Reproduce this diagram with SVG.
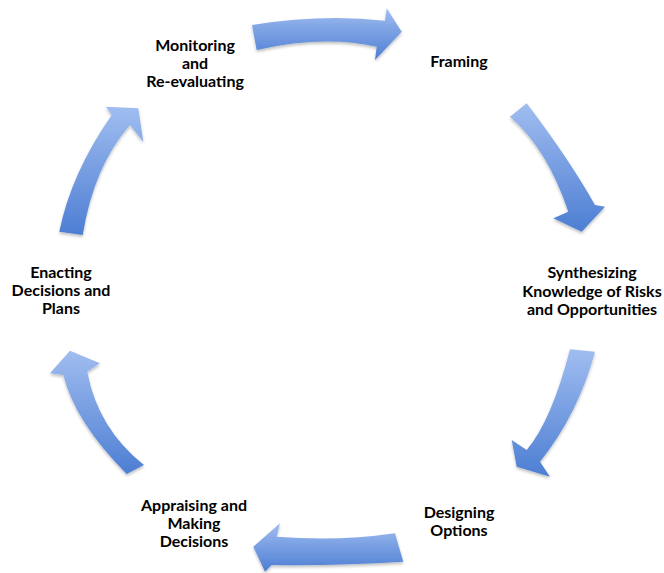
<svg xmlns="http://www.w3.org/2000/svg" width="664" height="573" viewBox="0 0 664 573">
  <style>
    .lbl { font-family: Lato, "Open Sans", "Liberation Sans", sans-serif; font-weight: bold; font-size: 16px; fill: #000; text-anchor: middle; }
    .arrow { fill: url(#blueGrad); filter: url(#shadow); }
  </style>
  <defs>
    <linearGradient id="blueGrad" x1="0" y1="0" x2="0" y2="1">
      <stop offset="0" stop-color="#a0bdf0"/>
      <stop offset="1" stop-color="#4d7ed3"/>
    </linearGradient>
    <filter id="shadow" x="-20%" y="-20%" width="140%" height="140%">
      <feDropShadow dx="0" dy="2" stdDeviation="1.5" flood-color="#000" flood-opacity="0.25"/>
    </filter>
  </defs>
  <rect width="664" height="573" fill="#fff"/>

  <g id="connectors">
    <path id="arrow-monitoring-framing" class="arrow" d="M252,25 Q321.5,13.8 385,20.7 L386.7,8.3 L401.7,31.7 L375,60 L376.7,46.7 Q323.3,35 256.7,50 Z"/>
    <path id="arrow-framing-synthesizing" class="arrow" d="M526.7,103.3 Q569.2,159.3 595,205 L605,206.7 L581.7,231.7 L553.3,218.3 L568.3,211.7 Q547.5,149.2 510,116.7 Z"/>
    <path id="arrow-synthesizing-designing" class="arrow" d="M595,351.7 Q578.5,413.3 540,461.7 L550,476.7 L516.7,466.7 L511.7,440 L526.7,450 Q551.7,420.4 570,349.3 Z"/>
    <path id="arrow-designing-appraising" class="arrow" d="M395,533.3 Q337.5,541.6 276.7,536.7 L280,523.3 L253.3,546.7 L265,571.7 L271.7,565 Q337,566 403.3,561.7 Z"/>
    <path id="arrow-appraising-enacting" class="arrow" d="M144,465 Q97.8,428.3 87.3,371.7 L100,363.3 L70,350.7 L50,373.3 L63.3,375 Q75,422.1 126.7,474 Z"/>
    <path id="arrow-enacting-monitoring" class="arrow" d="M59.3,231.7 Q71.1,173.3 111.7,115 L106,106.7 L138.3,108.3 L143.3,141.7 L130,125 Q93.7,166.6 82.7,235 Z"/>
  </g>

  <g id="node-monitoring">
    <text class="lbl" x="195" y="50.5">Monitoring</text>
    <text class="lbl" x="195" y="68.5">and</text>
    <text class="lbl" x="195" y="86.5">Re-evaluating</text>
  </g>
  <g id="node-framing">
    <text class="lbl" x="459" y="67">Framing</text>
  </g>
  <g id="node-synthesizing">
    <text class="lbl" x="592" y="278">Synthesizing</text>
    <text class="lbl" x="592" y="296.5">Knowledge of Risks</text>
    <text class="lbl" x="592" y="315">and Opportunities</text>
  </g>
  <g id="node-designing">
    <text class="lbl" x="459" y="517.5">Designing</text>
    <text class="lbl" x="459" y="536">Options</text>
  </g>
  <g id="node-appraising">
    <text class="lbl" x="194" y="510.5">Appraising and</text>
    <text class="lbl" x="194" y="528.5">Making</text>
    <text class="lbl" x="194" y="546.5">Decisions</text>
  </g>
  <g id="node-enacting">
    <text class="lbl" x="61" y="277.5">Enacting</text>
    <text class="lbl" x="61" y="295.5">Decisions and</text>
    <text class="lbl" x="61" y="313.5">Plans</text>
  </g>
</svg>
